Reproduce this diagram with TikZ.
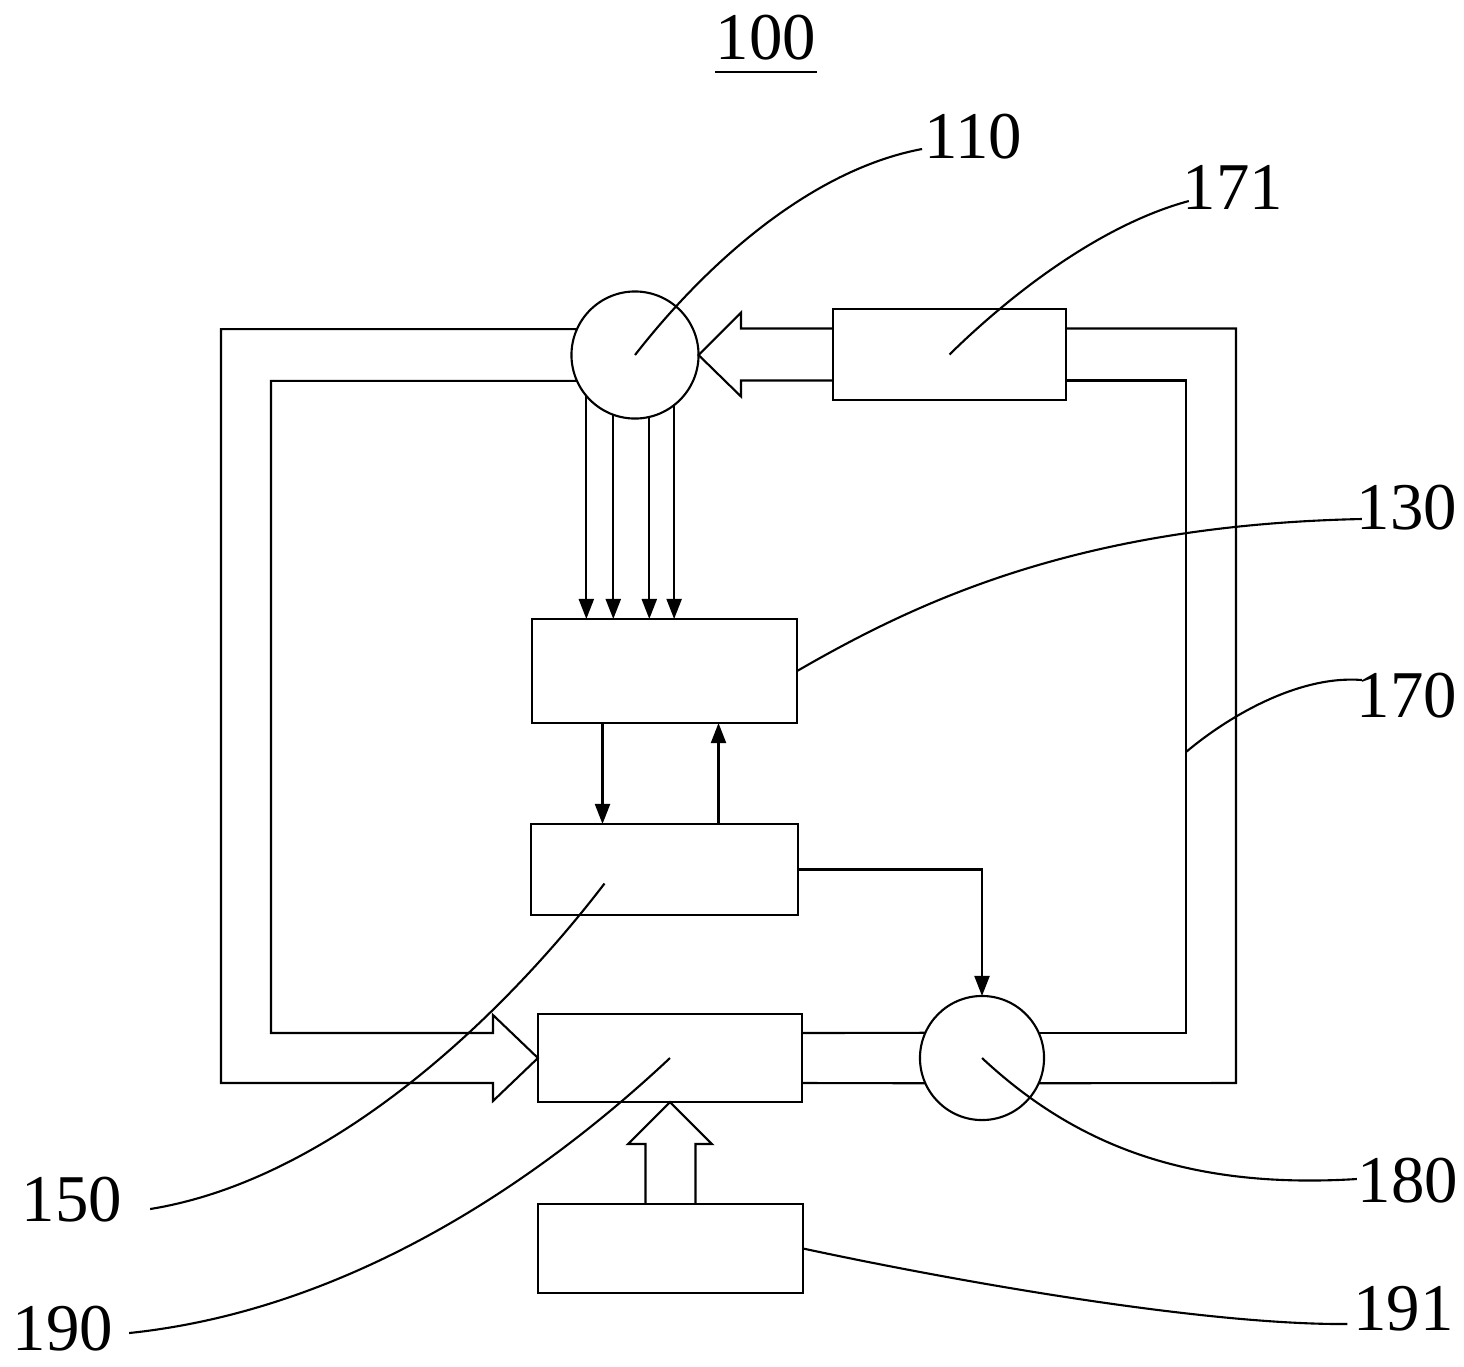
\documentclass[tikz,border=0pt]{standalone}
\usepackage{fontspec}
\setmainfont{Liberation Serif}
\usetikzlibrary{calc,arrows.meta}

\begin{document}
\begin{tikzpicture}[x=0.01cm,y=-0.01cm,line width=0.6pt,
		box/.style={draw,inner sep=0pt,outer sep=0pt},
		ring/.style={draw,circle,inner sep=0pt,outer sep=0pt},
		num/.style={inner sep=0pt,anchor=base,font=\fontsize{19}{23}\selectfont},
		sig/.style={-{Triangle[length=2mm,width=1.5mm]}}]
			%%%%% START %%%%%
			\useasboundingbox (0,0) rectangle (1464,1366);
			
			\node[ring,minimum size=1.27cm] (c110) at (635,355) {};
			\node[ring,minimum size=1.24cm] (c180) at (982,1058) {};
			\node[box,minimum width=2.33cm,minimum height=0.91cm] (b171) at (949.5,354.5) {};
			\node[box,minimum width=2.65cm,minimum height=1.04cm] (b130) at (664.5,671) {};
			\node[box,minimum width=2.66cm,minimum height=0.91cm] (b150) at (664.5,869.5) {};
			\node[box,minimum width=2.64cm,minimum height=0.88cm] (b190) at (670,1058) {};
			\node[box,minimum width=2.65cm,minimum height=0.89cm] (b191) at (670.5,1248.5) {};
			
			% pipes
			\draw (c110.156) -| (221,1083) -- (493,1083) -- (493,1101) -- (b190.west) -- (493,1015) -- (493,1033) -- (271,1033) |- (c110.204);
			\draw ($(b171.east)+(0,-26)$) -| (1236,1083) -- (c180.336);
			\draw (c180.24) -| (1186,380.5) -- ($(b171.east)+(0,26)$);
			\draw ($(b190.east)+(0,-25)$) -- (c180.156);
			\draw ($(b190.east)+(0,25)$) -- (c180.204);
			
			% hollow arrows
			\draw ($(b171.west)+(0,-26)$) -- (741,328.5) -- (741,312.5) -- (c110.east) -- (741,396.5) -- (741,380.5) -- ($(b171.west)+(0,26)$);
			\draw ($(b191.north)+(-25,0)$) |- ($(b190.south)+(-42,42)$) -- (b190.south) -- ($(b190.south)+(42,42)$) -| ($(b191.north)+(25,0)$);
			
			% signals
			\foreach \a in {220,250,283,308}
				\draw[sig] (c110.\a) -- (c110.\a |- b130.north);
			\draw[sig] ($(b130.south)+(-62,0)$) -- ($(b150.north)+(-62,0)$);
			\draw[sig] ($(b150.north)+(54,0)$) -- ($(b130.south)+(54,0)$);
			\draw[sig] (b150.east) -| (c180.north);
			
			% labels
			\node[num] (l100) at (766,59) {100};
			\draw ($(l100.base west)+(0,13)$) -- ($(l100.base east)+(0,13)$);
			\node[num] (l110) at (973.5,158) {110};
			\node[num] (l171) at (1233,209) {171};
			\node[num] (l130) at (1407,529) {130};
			\node[num] (l170) at (1407,717) {170};
			\node[num] (l150) at (72,1221) {150};
			\node[num] (l180) at (1408,1202) {180};
			\node[num] (l190) at (63,1350) {190};
			\node[num] (l191) at (1403.5,1330) {191};
			
			% leaders
			\coordinate (p170) at (1186,752);
			\draw (c110.center) .. controls (705,265) and (810,170) .. ($(l110.base west)+(-1.5,-9)$);
			\draw (b171.center) .. controls (1010,295) and (1100,225) .. ($(l171.base west)+(7,-8)$);
			\draw (b130.east) .. controls (920,600) and (1080,525) .. ($(l130.base west)+(6,-10)$);
			\draw (p170) .. controls (1230,715) and (1300,675) .. ($(l170.base west)+(6,-37)$);
			\draw ($(b150.center)+(-60,14)$) .. controls (500,1020) and (330,1180) .. ($(l150.base east)+(27,-12)$);
			\draw (b190.center) .. controls (540,1180) and (350,1310) .. ($(l190.base east)+(15,-17)$);
			\draw (c180.center) .. controls (1070,1140) and (1180,1190) .. ($(l180.base west)+(0,-23)$);
			\draw (b191.east) .. controls (950,1280) and (1200,1325) .. ($(l191.base west)+(-5,-6)$);
			
			%%%%% END %%%%%
		\end{tikzpicture}
\end{document}
